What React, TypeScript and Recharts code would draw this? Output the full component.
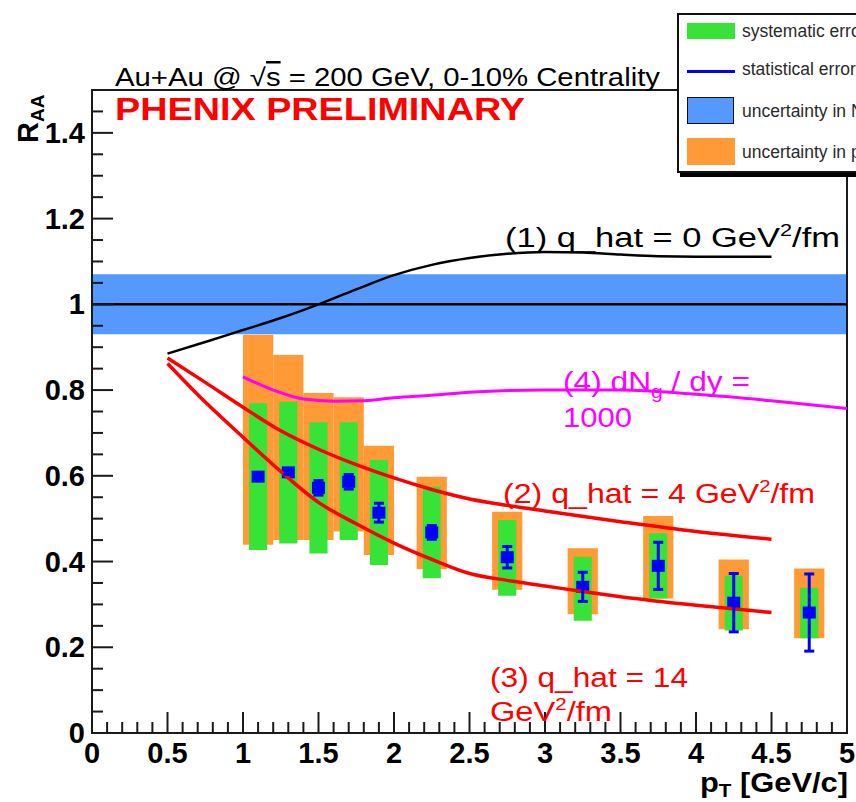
import React from 'react';
import {
  ComposedChart,
  XAxis,
  YAxis,
  Line,
  Scatter,
  ErrorBar,
  ReferenceArea,
  ReferenceLine,
} from 'recharts';

// PHENIX 0-10% Au+Au points
const ptValues = [1.1, 1.3, 1.5, 1.7, 1.9, 2.25, 2.75, 3.25, 3.75, 4.25, 4.75];
const raaValues = [0.598, 0.608, 0.572, 0.586, 0.514, 0.468, 0.41, 0.341, 0.39, 0.304, 0.281];
const statErr = [0.005, 0.005, 0.017, 0.017, 0.022, 0.016, 0.025, 0.034, 0.055, 0.068, 0.09];
const systLow = [0.427, 0.442, 0.419, 0.45, 0.392, 0.361, 0.32, 0.262, 0.314, 0.239, 0.221];
const systHigh = [0.769, 0.773, 0.725, 0.725, 0.637, 0.575, 0.497, 0.411, 0.466, 0.367, 0.339];
const ppLow = [0.439, 0.45, 0.45, 0.47, 0.415, 0.382, 0.334, 0.277, 0.314, 0.242, 0.221];
const ppHigh = [0.929, 0.882, 0.793, 0.783, 0.67, 0.598, 0.516, 0.431, 0.506, 0.405, 0.384];

// N_coll normalisation band around unity
const ncollBand = [0.93, 1.07];

// model curves
const qhat0X = [0.5, 0.75, 1.0, 1.25, 1.5, 1.75, 2.0, 2.25, 2.5, 2.75, 3.0, 3.25, 3.5, 3.75, 4.0, 4.5];
const qhat0Y = [0.885, 0.912, 0.94, 0.968, 1.0, 1.035, 1.068, 1.092, 1.108, 1.118, 1.122, 1.121, 1.116, 1.112, 1.111, 1.111];

const qhat4X = [0.5, 0.75, 1.0, 1.25, 1.5, 1.75, 2.0, 2.25, 2.5, 2.75, 3.0, 3.5, 4.0, 4.5];
const qhat4Y = [0.875, 0.818, 0.76, 0.705, 0.662, 0.626, 0.595, 0.568, 0.546, 0.531, 0.518, 0.493, 0.47, 0.452];

const qhat14X = [0.5, 0.75, 1.0, 1.25, 1.5, 1.75, 2.0, 2.25, 2.5, 2.75, 3.0, 3.25, 3.5, 4.0, 4.5];
const qhat14Y = [0.862, 0.772, 0.69, 0.61, 0.538, 0.488, 0.443, 0.405, 0.372, 0.356, 0.343, 0.33, 0.318, 0.298, 0.281];

const dndyX = [1.0, 1.2, 1.4, 1.6, 1.8, 2.0, 2.25, 2.5, 3.0, 3.5, 4.0, 4.5, 5.0];
const dndyY = [0.831, 0.8, 0.779, 0.774, 0.775, 0.782, 0.788, 0.795, 0.8, 0.8, 0.79, 0.775, 0.757];

const xMajorTicks = [0, 0.5, 1, 1.5, 2, 2.5, 3, 3.5, 4, 4.5, 5];
const yMajorTicks = [0, 0.2, 0.4, 0.6, 0.8, 1, 1.2, 1.4];

const xAllTicks = Array.from({ length: 51 }, (_, i) => Math.round(i * 10) / 100);
const yAllTicks = Array.from({ length: 31 }, (_, i) => Math.round(i * 5) / 100);

const W = 856;
const H = 802;
const LEFT = 92;
const RIGHT = 847;
const TOP = 90;
const BOTTOM = 733;

const FONT = '"Liberation Sans", Arial, Helvetica, sans-serif';
const AXIS = '#1a1a1a';
const GREEN = '#36e336';
const ORANGE = '#ff9a36';
const BAND = '#5599ff';

const toPoints = (xs: number[], ys: number[]) => xs.map((x, i) => ({ x, y: ys[i] }));

const points = ptValues.map((x, i) => ({ x, y: raaValues[i], stat: statErr[i] }));

const findMajor = (list: number[], v: number) => list.find((m) => Math.abs(m - v) < 1e-6);

const XTick = (props: any) => {
  const { x, payload } = props;
  const major = findMajor(xMajorTicks, payload.value);
  const isMajor = major !== undefined;
  return (
    <g>
      <line x1={x} x2={x} y1={BOTTOM} y2={BOTTOM - (isMajor ? 21 : 11)} stroke={AXIS} strokeWidth={2} />
      {isMajor && (
        <text x={x} y={763} textAnchor="middle" fontFamily={FONT} fontWeight="bold" fontSize={29} fill="#000">
          {String(major)}
        </text>
      )}
    </g>
  );
};

const YTick = (props: any) => {
  const { y, payload } = props;
  const major = findMajor(yMajorTicks, payload.value);
  const isMajor = major !== undefined;
  return (
    <g>
      <line x1={LEFT} x2={LEFT + (isMajor ? 21 : 11)} y1={y} y2={y} stroke={AXIS} strokeWidth={2} />
      {isMajor && (
        <text x={85} y={y + 10} textAnchor="end" fontFamily={FONT} fontWeight="bold" fontSize={29} fill="#000">
          {String(major)}
        </text>
      )}
    </g>
  );
};

const SquareMarker = (props: any) => {
  const { cx, cy } = props;
  return <rect x={cx - 6.5} y={cy - 6} width={13} height={12} fill="#0000ff" />;
};

const legendItems = [
  { kind: 'fill', color: GREEN, text: 'systematic error', top: 8, h: 16, textMid: 16 },
  { kind: 'line', color: '#0000ff', text: 'statistical error', top: 55, h: 3, textMid: 54 },
  { kind: 'box', color: BAND, text: 'uncertainty in Ncoll', top: 82, h: 28, textMid: 96 },
  { kind: 'fill', color: ORANGE, text: 'uncertainty in p+p reference', top: 123, h: 27, textMid: 137 },
];

function Legend() {
  return (
    <div
      style={{
        position: 'absolute',
        left: 677,
        top: 13,
        width: 220,
        height: 156,
        background: '#fff',
        border: '2px solid #111',
        boxShadow: '3px 4px 0 #000',
        fontFamily: FONT,
      }}
    >
      {legendItems.map((it) => (
        <React.Fragment key={it.text}>
          <div
            style={{
              position: 'absolute',
              left: 8,
              top: it.top,
              width: it.kind === 'box' ? 45 : 48,
              height: it.kind === 'box' ? it.h - 3 : it.h,
              background: it.color,
              border: it.kind === 'box' ? '1.5px solid #111' : 'none',
            }}
          />
          <div
            style={{
              position: 'absolute',
              left: 63,
              top: it.textMid - 11,
              fontSize: 17.5,
              color: '#2a2a2a',
              whiteSpace: 'nowrap',
              lineHeight: '22px',
            }}
          >
            {it.text}
          </div>
        </React.Fragment>
      ))}
    </div>
  );
}

function Annotations() {
  return (
    <svg width={W} height={H} style={{ position: 'absolute', left: 0, top: 0, pointerEvents: 'none' }}>
      <text x={115} y={86} fontFamily={FONT} fontSize={25} fill="#000" textLength={545} lengthAdjust="spacingAndGlyphs">
        Au+Au @ √<tspan textDecoration="overline">s</tspan> = 200 GeV, 0-10% Centrality
      </text>
      <text
        x={115}
        y={120}
        fontFamily={FONT}
        fontWeight="bold"
        fontSize={31}
        fill="#ff0000"
        textLength={410}
        lengthAdjust="spacingAndGlyphs"
      >
        PHENIX PRELIMINARY
      </text>
      <text x={505} y={247} fontFamily={FONT} fontSize={27} fill="#000" textLength={335} lengthAdjust="spacingAndGlyphs">
        (1) q_hat = 0 GeV<tspan fontSize={17} dy={-11}>2</tspan>
        <tspan dy={11}>/fm</tspan>
      </text>
      <text x={563} y={391} fontFamily={FONT} fontSize={27} fill="#ff00ff" textLength={187} lengthAdjust="spacingAndGlyphs">
        (4) dN<tspan fontSize={18} dy={7}>g</tspan>
        <tspan dy={-7}> / dy =</tspan>
      </text>
      <text x={563} y={427} fontFamily={FONT} fontSize={27} fill="#ff00ff" textLength={69} lengthAdjust="spacingAndGlyphs">
        1000
      </text>
      <text x={503} y={503} fontFamily={FONT} fontSize={27} fill="#ff0000" textLength={312} lengthAdjust="spacingAndGlyphs">
        (2) q_hat = 4 GeV<tspan fontSize={17} dy={-11}>2</tspan>
        <tspan dy={11}>/fm</tspan>
      </text>
      <text x={490} y={687} fontFamily={FONT} fontSize={27} fill="#ff0000" textLength={198} lengthAdjust="spacingAndGlyphs">
        (3) q_hat = 14
      </text>
      <text x={490} y={721} fontFamily={FONT} fontSize={27} fill="#ff0000" textLength={122} lengthAdjust="spacingAndGlyphs">
        GeV<tspan fontSize={17} dy={-11}>2</tspan>
        <tspan dy={11}>/fm</tspan>
      </text>
      <text transform="translate(38,143) rotate(-90)" fontFamily={FONT} fontWeight="bold" fontSize={29} fill="#000">
        R<tspan fontSize={19} dy={6}>AA</tspan>
      </text>
      <text
        x={700}
        y={792}
        fontFamily={FONT}
        fontWeight="bold"
        fontSize={27}
        fill="#000"
        textLength={148}
        lengthAdjust="spacingAndGlyphs"
      >
        p<tspan fontSize={18} dy={5}>T</tspan>
        <tspan dy={-5}> [GeV/c]</tspan>
      </text>
    </svg>
  );
}

export default function App() {
  return (
    <div
      style={{
        position: 'absolute',
        left: 0,
        top: 0,
        width: W,
        height: H,
        overflow: 'hidden',
        background: '#fff',
      }}
    >
      <ComposedChart width={W} height={H} margin={{ top: TOP, right: W - RIGHT, bottom: 0, left: 0 }}>
        <XAxis
          type="number"
          dataKey="x"
          domain={[0, 5]}
          ticks={xAllTicks}
          interval={0}
          height={H - BOTTOM}
          tick={<XTick />}
          tickLine={false}
          axisLine={{ stroke: AXIS, strokeWidth: 2 }}
          allowDataOverflow
        />
        <YAxis
          type="number"
          domain={[0, 1.5]}
          ticks={yAllTicks}
          interval={0}
          width={LEFT}
          tick={<YTick />}
          tickLine={false}
          axisLine={{ stroke: AXIS, strokeWidth: 2 }}
          allowDataOverflow
        />
        <ReferenceArea
          x1={0}
          x2={5}
          y1={ncollBand[0]}
          y2={ncollBand[1]}
          fill={BAND}
          fillOpacity={1}
          stroke="none"
        />
        <ReferenceLine y={1} stroke="#000" strokeWidth={2.5} />
        {ptValues.map((x, i) => (
          <ReferenceArea
            key={`pp-${x}`}
            x1={x - 0.1}
            x2={x + 0.1}
            y1={ppLow[i]}
            y2={ppHigh[i]}
            fill={ORANGE}
            fillOpacity={1}
            stroke="none"
          />
        ))}
        {ptValues.map((x, i) => (
          <ReferenceArea
            key={`sys-${x}`}
            x1={x - 0.06}
            x2={x + 0.06}
            y1={systLow[i]}
            y2={systHigh[i]}
            fill={GREEN}
            fillOpacity={1}
            stroke="none"
          />
        ))}
        <Scatter data={points} dataKey="y" shape={<SquareMarker />} isAnimationActive={false} zIndex={350}>
          <ErrorBar dataKey="stat" direction="y" width={5} stroke="#0000ff" strokeWidth={3} />
        </Scatter>
        <Line
          data={toPoints(qhat0X, qhat0Y)}
          dataKey="y"
          type="monotone"
          stroke="#000"
          strokeWidth={2.5}
          dot={false}
          isAnimationActive={false}
        />
        <Line
          data={toPoints(dndyX, dndyY)}
          dataKey="y"
          type="monotone"
          stroke="#ff00ff"
          strokeWidth={3}
          dot={false}
          isAnimationActive={false}
        />
        <Line
          data={toPoints(qhat4X, qhat4Y)}
          dataKey="y"
          type="monotone"
          stroke="#ff0000"
          strokeWidth={3.5}
          dot={false}
          isAnimationActive={false}
        />
        <Line
          data={toPoints(qhat14X, qhat14Y)}
          dataKey="y"
          type="monotone"
          stroke="#ff0000"
          strokeWidth={3.5}
          dot={false}
          isAnimationActive={false}
        />
        <ReferenceArea x1={0} x2={5} y1={0} y2={1.5} fill="none" stroke={AXIS} strokeWidth={2} />
      </ComposedChart>
      <Annotations />
      <Legend />
    </div>
  );
}
